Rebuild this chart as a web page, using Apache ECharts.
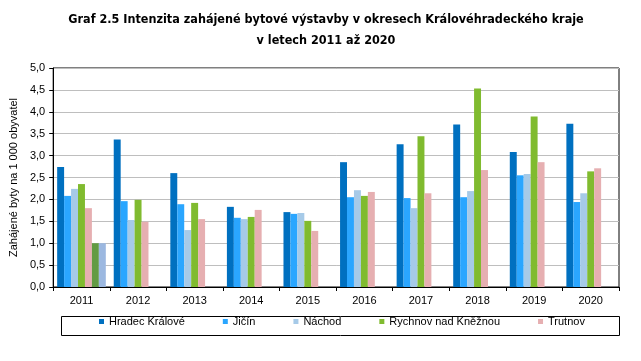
<!DOCTYPE html>
<html>
<head>
<meta charset="utf-8">
<script src="https://cdn.jsdelivr.net/npm/echarts@6/dist/echarts.min.js"></script>
<style>
html,body{margin:0;padding:0;background:#fff;}
#chart{width:641px;height:361px;}
</style>
</head>
<body>
<div id="chart"></div>
<script>
const years = ['2011','2012','2013','2014','2015','2016','2017','2018','2019','2020'];
const hradecKralove = [2.74, 3.37, 2.60, 1.83, 1.71, 2.85, 3.26, 3.71, 3.08, 3.73];
const jicin         = [2.08, 1.96, 1.89, 1.58, 1.67, 2.05, 2.03, 2.05, 2.55, 1.94];
const nachod        = [2.24, 1.53, 1.30, 1.55, 1.69, 2.21, 1.80, 2.19, 2.58, 2.14];
const rychnov       = [2.35, 1.99, 1.92, 1.60, 1.51, 2.08, 3.44, 4.53, 3.89, 2.64];
const trutnov       = [1.80, 1.49, 1.55, 1.76, 1.28, 2.17, 2.14, 2.67, 2.85, 2.71];
const extraGreen    = [1.00, null, null, null, null, null, null, null, null, null];
const extraBlue     = [1.00, null, null, null, null, null, null, null, null, null];
const yTicks = [0, 0.5, 1, 1.5, 2, 2.5, 3, 3.5, 4, 4.5, 5];

const seriesDefs = [
  {name:'Hradec Králové', data:hradecKralove, color:'#0070C0'},
  {name:'Jičín', data:jicin, color:'#2AA6FF'},
  {name:'Náchod', data:nachod, color:'#A6CAE8'},
  {name:'Rychnov nad Kněžnou', data:rychnov, color:'#80BB2F'},
  {name:'Trutnov', data:trutnov, color:'#E6AFB1'},
  {name:'extra1', data:extraGreen, color:'#629B43'},
  {name:'extra2', data:extraBlue, color:'#9CB8E0'}
];

const chart = echarts.init(document.getElementById('chart'), null, {renderer:'canvas'});
const font = "'Liberation Sans', Arial, sans-serif";
chart.setOption({
  animation:false,
  backgroundColor:'#fff',
  title:{
    text:'Graf 2.5 Intenzita zahájené bytové výstavby v okresech Královéhradeckého kraje\nv letech 2011 až 2020',
    left:321, top:4, textAlign:'center',
    textStyle:{fontFamily:"'Liberation Sans Narrow', 'DejaVu Sans Condensed', sans-serif", fontWeight:'bold', fontSize:12.5, lineHeight:21, color:'#000'}
  },
  grid:{left:48, right:22, top:68, bottom:74, show:true, borderColor:'#000', borderWidth:1, containLabel:false},
  legend:{
    data:seriesDefs.slice(0,5).map(s=>s.name),
    left:99, top:316, padding:0,
    itemWidth:5, itemHeight:5, itemGap:38,
    icon:'rect',
    textStyle:{fontFamily:font, fontSize:11, color:'#000'}
  },
  graphic:[{
    type:'rect', left:59, top:314, shape:{width:558, height:19},
    style:{fill:'none', stroke:'#000', lineWidth:1}
  }],
  xAxis:{
    type:'category', data:years,
    axisLine:{lineStyle:{color:'#000', width:1}},
    axisTick:{show:true, length:4, lineStyle:{color:'#000'}, alignWithLabel:false},
    axisLabel:{fontFamily:font, fontSize:11, color:'#000', margin:8}
  },
  yAxis:{
    type:'value', min:0, max:5, interval:0.5,
    name:'Zahájené byty na 1 000 obyvatel', nameLocation:'middle', nameGap:26,
    nameTextStyle:{fontFamily:font, fontSize:11, color:'#000'},
    axisLine:{show:true, lineStyle:{color:'#000', width:1}},
    axisTick:{show:true, length:4, lineStyle:{color:'#000'}},
    axisLabel:{fontFamily:font, fontSize:11, color:'#000', margin:8,
      formatter:v=>v.toFixed(1).replace('.',',')},
    splitLine:{lineStyle:{color:'#BEBEBE', width:1}}
  },
  series:seriesDefs.map(s=>({
    name:s.name, type:'bar', data:s.data,
    itemStyle:{color:s.color},
    barGap:'0%', barCategoryGap:'14%'
  }))
});
</script>
</body>
</html>
